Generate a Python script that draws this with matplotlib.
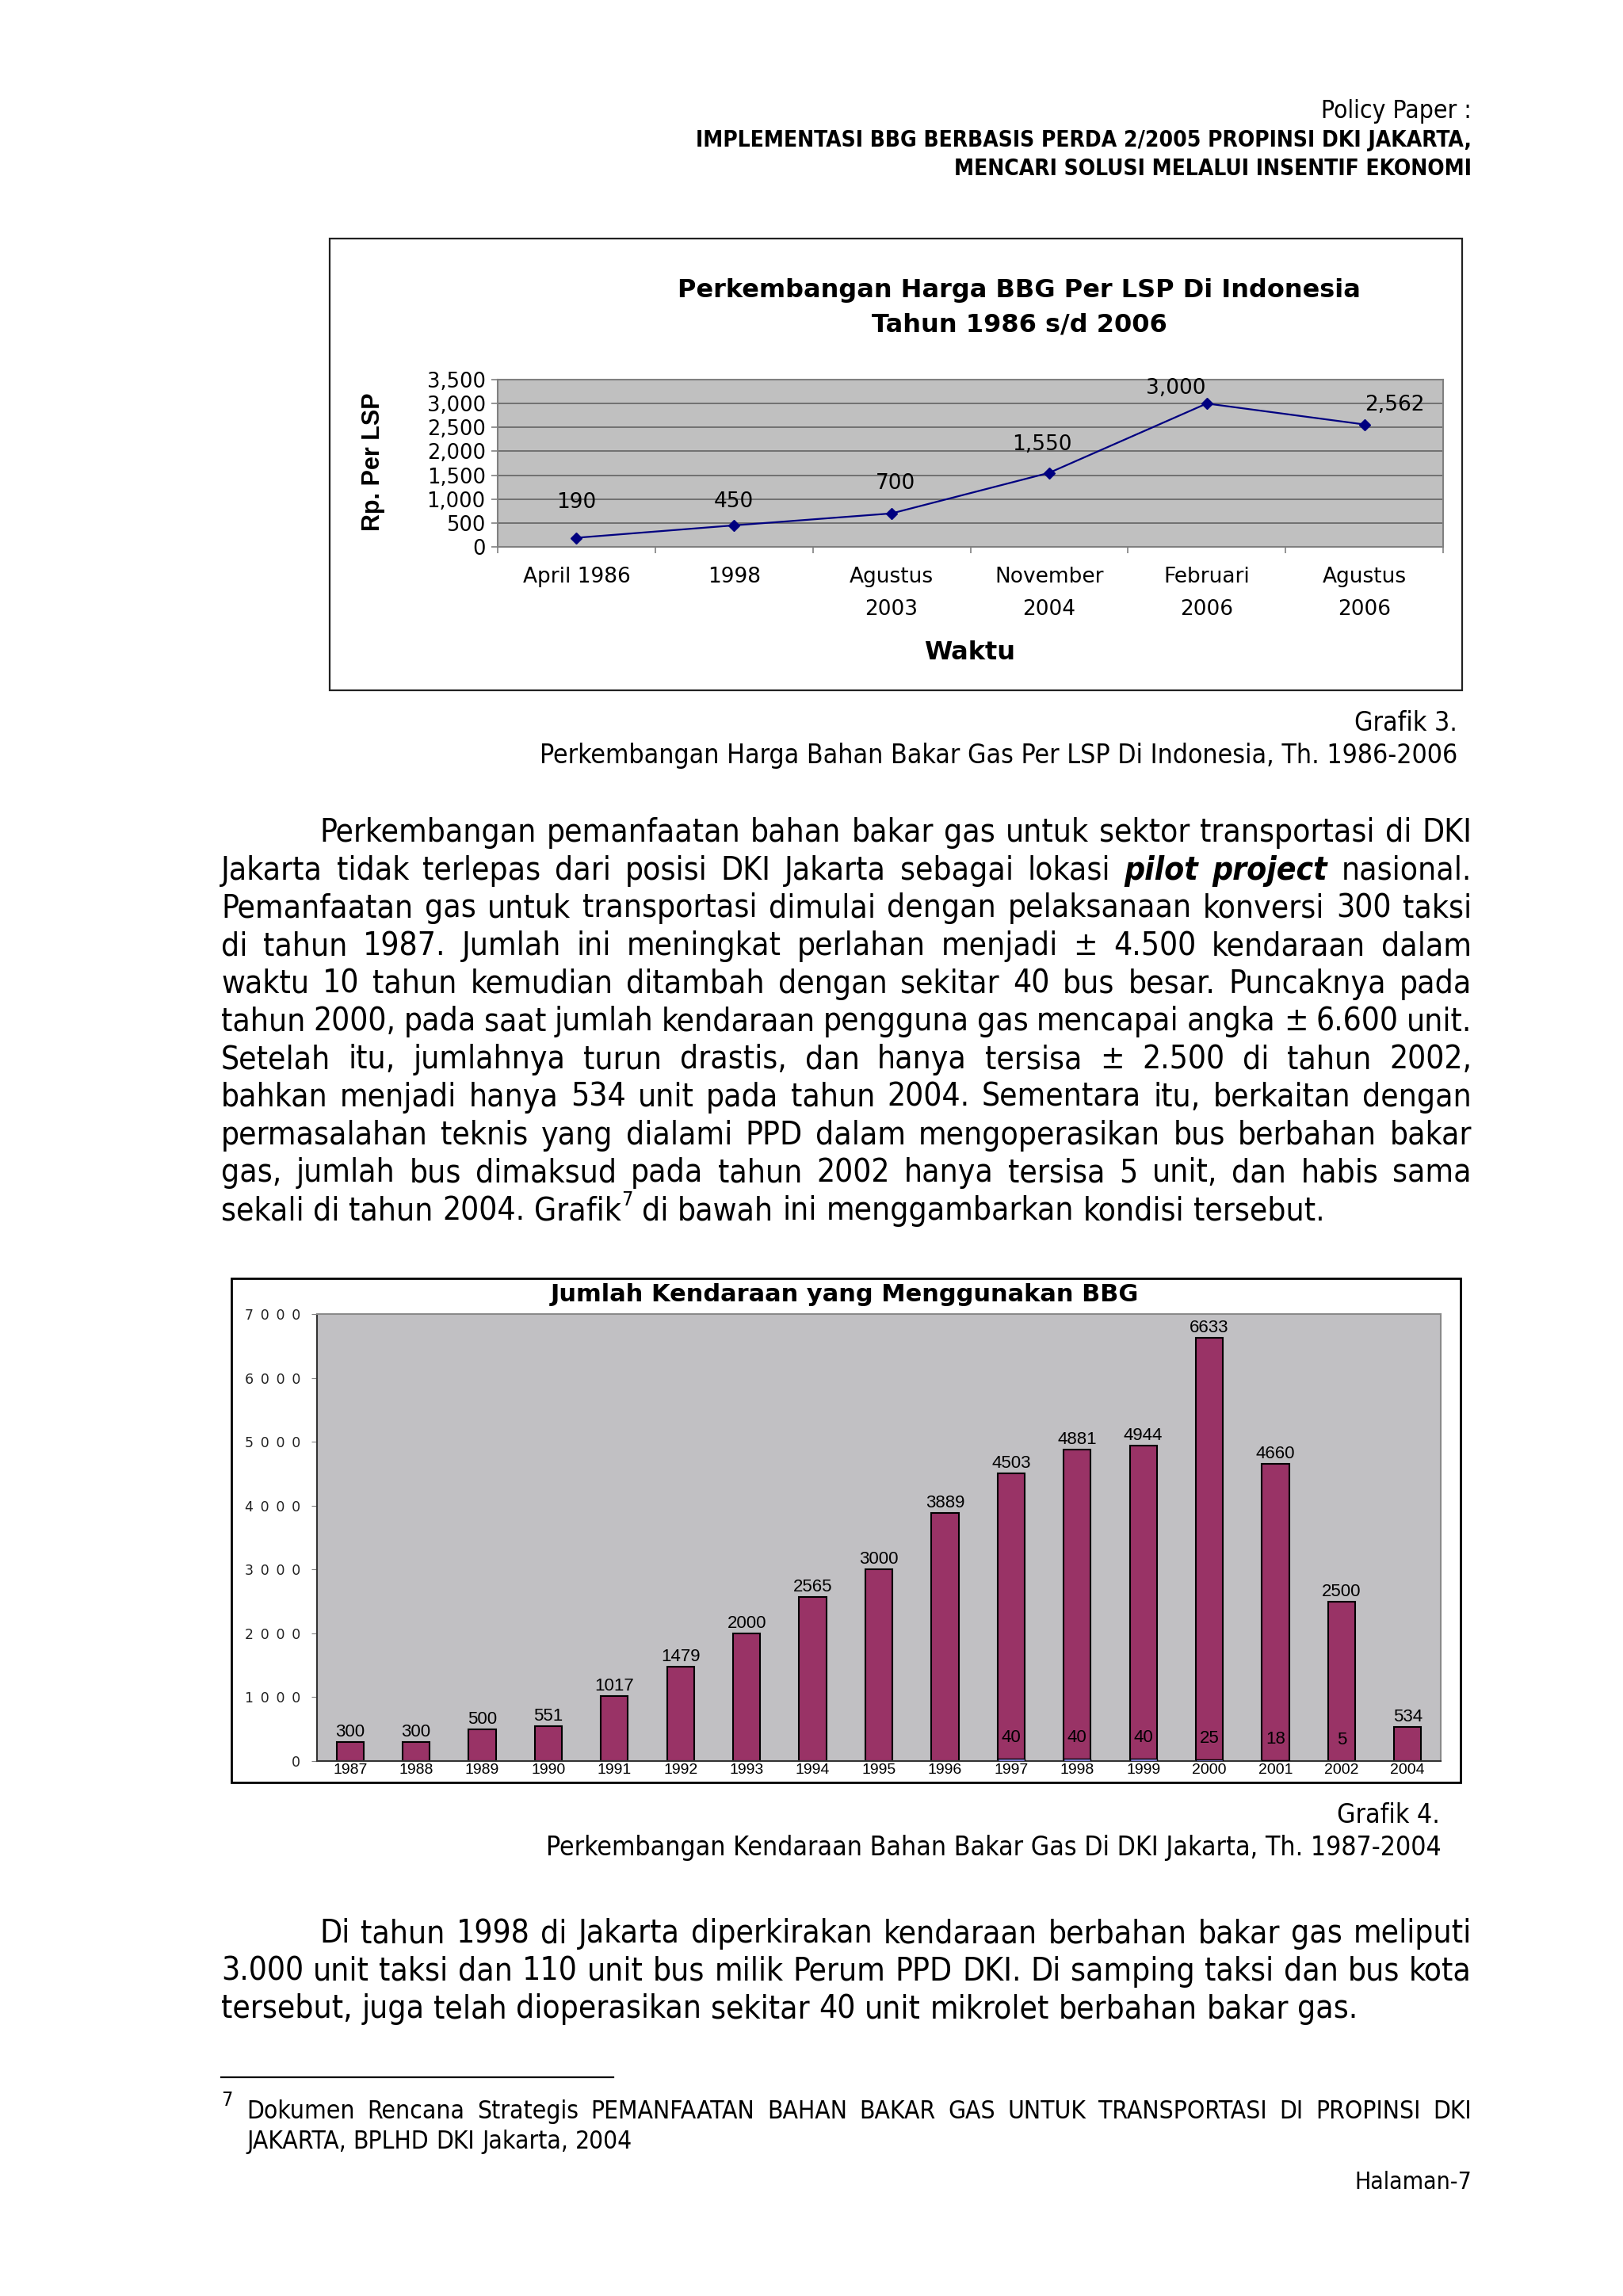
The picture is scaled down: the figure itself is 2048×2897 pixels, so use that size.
import matplotlib
matplotlib.use("Agg")
import matplotlib.pyplot as plt
from matplotlib.patches import Rectangle
from matplotlib.lines import Line2D
from matplotlib.ticker import FuncFormatter

W, H, DPI = 2048, 2897, 100
PX = DPI / 72.0

# ---- data ----
header_lines = ["Policy Paper :",
                "IMPLEMENTASI BBG BERBASIS PERDA 2/2005 PROPINSI DKI JAKARTA,",
                "MENCARI SOLUSI MELALUI INSENTIF EKONOMI"]

harga_judul = ["Perkembangan Harga BBG Per LSP Di Indonesia", "Tahun 1986 s/d 2006"]
harga_waktu = ["April 1986", "1998", "Agustus\n2003", "November\n2004", "Februari\n2006", "Agustus\n2006"]
harga_lsp = [190, 450, 700, 1550, 3000, 2562]

caption3 = ["Grafik 3.", "Perkembangan Harga Bahan Bakar Gas Per LSP Di Indonesia, Th. 1986-2006"]

par1 = [
    "Perkembangan pemanfaatan bahan bakar gas untuk sektor transportasi di DKI",
    "Jakarta tidak terlepas dari posisi DKI Jakarta sebagai lokasi *pilot* *project* nasional.",
    "Pemanfaatan gas untuk transportasi dimulai dengan pelaksanaan konversi 300 taksi",
    "di tahun 1987. Jumlah ini meningkat perlahan menjadi ± 4.500 kendaraan dalam",
    "waktu 10 tahun kemudian ditambah dengan sekitar 40 bus besar. Puncaknya pada",
    "tahun 2000, pada saat jumlah kendaraan pengguna gas mencapai angka ± 6.600 unit.",
    "Setelah itu, jumlahnya turun drastis, dan hanya tersisa ± 2.500 di tahun 2002,",
    "bahkan menjadi hanya 534 unit pada tahun 2004. Sementara itu, berkaitan dengan",
    "permasalahan teknis yang dialami PPD dalam mengoperasikan bus berbahan bakar",
    "gas, jumlah bus dimaksud pada tahun 2002 hanya tersisa 5 unit, dan habis sama",
    "sekali di tahun 2004. Grafik^7 di bawah ini menggambarkan kondisi tersebut.",
]

kendaraan_judul = "Jumlah Kendaraan yang Menggunakan BBG"
tahun = ["1987", "1988", "1989", "1990", "1991", "1992", "1993", "1994", "1995",
         "1996", "1997", "1998", "1999", "2000", "2001", "2002", "2004"]
taksi = [300, 300, 500, 551, 1017, 1479, 2000, 2565, 3000, 3889, 4503, 4881, 4944, 6633, 4660, 2500, 534]
bus = [0, 0, 0, 0, 0, 0, 0, 0, 0, 0, 40, 40, 40, 25, 18, 5, 0]

caption4 = ["Grafik 4.", "Perkembangan Kendaraan Bahan Bakar Gas Di DKI Jakarta, Th. 1987-2004"]

par2 = [
    "Di tahun 1998 di Jakarta diperkirakan kendaraan berbahan bakar gas meliputi",
    "3.000 unit taksi dan 110 unit bus milik Perum PPD DKI. Di samping taksi dan bus kota",
    "tersebut, juga telah dioperasikan sekitar 40 unit mikrolet berbahan bakar gas.",
]

footnote = ["Dokumen Rencana Strategis PEMANFAATAN BAHAN BAKAR GAS UNTUK TRANSPORTASI DI PROPINSI DKI",
            "JAKARTA, BPLHD DKI Jakarta, 2004"]
halaman = "Halaman-7"

# ---- page ----
plt.rcParams["font.family"] = ["DejaVu Sans"]
fig = plt.figure(figsize=(W / DPI, H / DPI), dpi=DPI, facecolor="white")
R = fig.canvas.get_renderer()
DOC = {"stretch": "condensed"}   # narrow face for the page text, if there is one


def put(x, y, s, **kw):
    return fig.text(x / W, 1 - y / H, s, **kw)


def width(s, **kw):
    t = put(0, 0, s, **kw)
    w = t.get_window_extent(R).width
    t.remove()
    return w


def fit(s, target, **kw):
    return 20 * target / width(s, size=20, **kw)


def box(l, t, r, b):
    return [l / W, 1 - b / H, (r - l) / W, (b - t) / H]


def runs(tok):
    if tok.startswith("*") and tok.endswith("*"):
        return [(tok.strip("*"), {"weight": "bold", "style": "italic"}, 1.0, 0.0)]
    if "^" in tok:
        a, b = tok.split("^")
        return [(a, {}, 1.0, 0.0), (b, {}, 0.62, 0.45)]
    return [(tok, {}, 1.0, 0.0)]


def word_w(tok, size):
    return sum(width(t, size=size * sc, **kw, **DOC) for t, kw, sc, _ in runs(tok))


def draw_word(x, base, tok, size):
    for t, kw, sc, rise in runs(tok):
        put(x, base - rise * size * PX, t, size=size * sc, ha="left", va="baseline", **kw, **DOC)
        x += width(t, size=size * sc, **kw, **DOC)


def space_w(size):
    return width("a a", size=size, **DOC) - width("aa", size=size, **DOC)


def draw_line(x0, x1, base, line, size, justify):
    words = line.split(" ")
    ws = [word_w(w, size) for w in words]
    if justify and len(words) > 1:
        gap = (x1 - x0 - sum(ws)) / (len(words) - 1)
    else:
        gap = space_w(size)
    x = x0
    for w, wd in zip(words, ws):
        draw_word(x, base, w, size)
        x += wd + gap


def draw_par(lines, base0, size, pitch=47.7, left=279, indent=403, right=1857):
    for k, line in enumerate(lines):
        x0 = indent if k == 0 else left
        draw_line(x0, right, base0 + k * pitch, line, size, k < len(lines) - 1)


# header
hs = fit(header_lines[1], 978, weight="bold", **DOC)
put(1857, 140, header_lines[0], size=fit(header_lines[0], 190, **DOC), ha="right", va="center", **DOC)
put(1857, 177, header_lines[1], size=hs, weight="bold", ha="right", va="center", **DOC)
put(1857, 213, header_lines[2], size=hs, weight="bold", ha="right", va="center", **DOC)

# body text size: fitted on last line of paragraph 1, capped by tightest line
last = par1[-1].split(" ")
body = 20 * 1398 / (sum(word_w(w, 20) for w in last) + space_w(20) * (len(last) - 1))
worst = 0
for k, line in enumerate(par1[:-1] + par2[:-1]):
    x0 = 403 if k in (0, len(par1) - 1) else 279
    ws = sum(word_w(w, body) for w in line.split(" ")) + 0.85 * space_w(body) * (len(line.split(" ")) - 1)
    worst = max(worst, ws / (1857 - x0))
if worst > 1:
    body /= worst

# ---- Grafik 3 ----
fig.patches.append(Rectangle((416 / W, 1 - 871 / H), (1845 - 416) / W, (871 - 301) / H,
                             transform=fig.transFigure, fill=False, ec="#222222", lw=1.6))
put(1286, 366, harga_judul[0], size=23, weight="bold", ha="center", va="center")
put(1286, 410, harga_judul[1], size=23, weight="bold", ha="center", va="center")

ax1 = fig.add_axes(box(628, 479, 1821, 690))
ax1.set_facecolor("#c0c0c0")
xs = list(range(len(harga_lsp)))
ax1.plot(xs, harga_lsp, color="#000080", lw=1.6, marker="D", ms=7, zorder=3)
ax1.set_xlim(-0.5, len(xs) - 0.5)
ax1.set_ylim(0, 3500)
ax1.set_yticks(range(0, 3501, 500))
ax1.yaxis.set_major_formatter(FuncFormatter(lambda v, p: f"{int(v):,}"))
ax1.grid(axis="y", color="#6a6a6a", lw=1.3)
ax1.set_axisbelow(True)
ax1.set_xticks(xs)
ax1.set_xticklabels(harga_waktu, linespacing=1.75)
ax1.set_xticks([i - 0.5 for i in range(len(xs) + 1)], minor=True)
ax1.tick_params(axis="x", which="major", length=0, pad=18, labelsize=19)
ax1.tick_params(axis="x", which="minor", length=6, color="#808080", width=1.2)
ax1.tick_params(axis="y", length=6, color="#808080", width=1.2, pad=5, labelsize=18.5)
for s in ax1.spines.values():
    s.set_color("#808080")
    s.set_linewidth(1.5)
label_off = [(0, 45), (0, 30), (5, 38), (-9, 36), (-39, 19), (38, 25)]
for xv, yv, off in zip(xs, harga_lsp, label_off):
    ax1.annotate(f"{yv:,}", (xv, yv), xytext=off, textcoords="offset pixels",
                 ha="center", va="center", size=19, annotation_clip=False)
put(1224, 824, "Waktu", size=23, weight="bold", ha="center", va="center")
put(471, 583, "Rp. Per LSP", size=22, weight="bold", family="Liberation Sans",
    rotation=90, ha="center", va="center")

cs = fit(caption3[1], 1155, **DOC)
put(1839, 913, caption3[0], size=cs, ha="right", va="center", **DOC)
put(1839, 954, caption3[1], size=cs, ha="right", va="center", **DOC)

draw_par(par1, 1062, body)

# ---- Grafik 4 ----
fig.patches.append(Rectangle((292 / W, 1 - 2249 / H), (1843 - 292) / W, (2249 - 1613) / H,
                             transform=fig.transFigure, fill=False, ec="black", lw=2))
put(1066, 1634, kendaraan_judul, size=22, weight="bold", ha="center", va="center")

ax2 = fig.add_axes(box(400, 1658, 1818, 2222))
ax2.set_facecolor("#c1c0c3")
xi = list(range(len(tahun)))
ax2.bar(xi, taksi, width=0.41, color="#993366", edgecolor="black", lw=1.5, zorder=2)
bi = [i for i in xi if bus[i]]
ax2.bar(bi, [bus[i] for i in bi], width=0.41, color="#9999ff", edgecolor="black", lw=1, zorder=3)
ax2.set_xlim(-0.5, len(xi) - 0.5)
ax2.set_ylim(0, 7000)
ax2.set_yticks(range(0, 7001, 1000))
ax2.yaxis.set_major_formatter(FuncFormatter(lambda v, p: "\u2002".join(str(int(v)))))
ax2.tick_params(axis="y", length=5, color="#808080", pad=10, labelsize=12.5, labelcolor="#222222")
ax2.set_xticks(xi)
ax2.set_xticklabels(tahun, family="Liberation Sans")
ax2.tick_params(axis="x", length=0, pad=2, labelsize=14)
for k in ("top", "right"):
    ax2.spines[k].set_color("#8a8a8a")
    ax2.spines[k].set_linewidth(1.5)
for k in ("left", "bottom"):
    ax2.spines[k].set_color("#333333")
    ax2.spines[k].set_linewidth(1.5)
for i, v in zip(xi, taksi):
    ax2.annotate(str(v), (i, v), xytext=(0, 2), textcoords="offset pixels", ha="center",
                 va="bottom", size=16, family="Liberation Sans")
for i in bi:
    ax2.annotate(str(bus[i]), (i, bus[i]), xytext=(0, 26), textcoords="offset pixels",
                 ha="center", va="center", size=16, family="Liberation Sans")

put(1817, 2290, caption4[0], size=cs, ha="right", va="center", **DOC)
put(1819, 2331, caption4[1], size=cs, ha="right", va="center", **DOC)

draw_par(par2, 2451, body)

# ---- footnote ----
fig.add_artist(Line2D([279 / W, 774 / W], [1 - 2621 / H, 1 - 2621 / H], color="black", lw=1.6))
fs = fit(footnote[1], 487, **DOC)
put(279, 2650, "7", size=fs * 0.8, ha="left", va="center", **DOC)
draw_line(311, 1857, 2673, footnote[0], fs, True)
draw_line(311, 1857, 2711, footnote[1], fs, False)
put(1857, 2753, halaman, size=fit(halaman, 148, **DOC), ha="right", va="center", **DOC)

fig.savefig("out.png", dpi=DPI, facecolor="white")
